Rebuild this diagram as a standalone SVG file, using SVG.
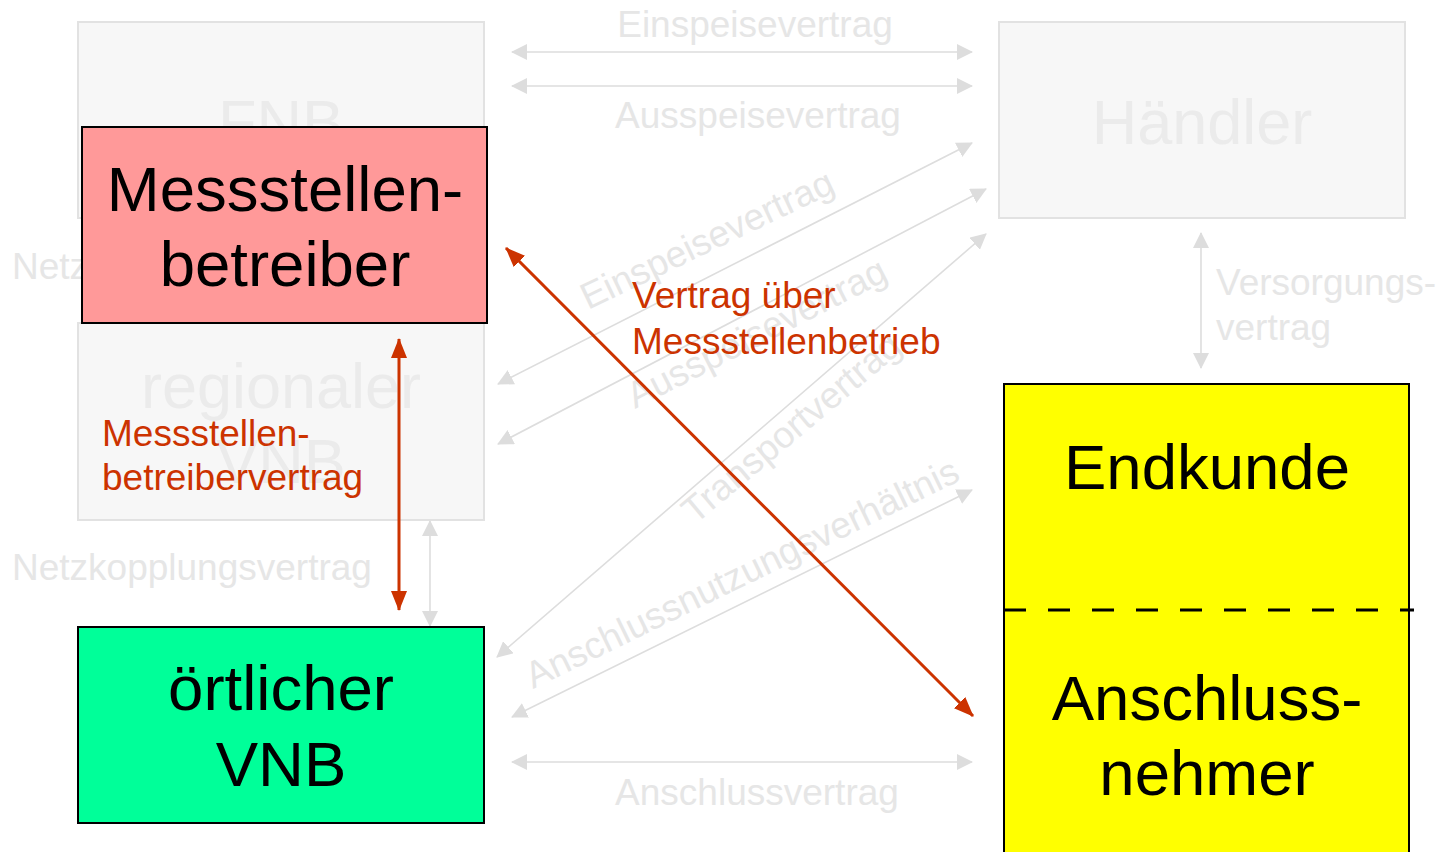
<svg xmlns="http://www.w3.org/2000/svg" width="1441" height="852" viewBox="0 0 1441 852">
  <style>
    text { font-family: "Liberation Sans", Arial, sans-serif; }
    .ghost-box { fill: #F7F7F7; stroke: #E2E2E2; stroke-width: 2; }
    .ghost-title { fill: #EBEBEB; font-size: 63px; text-anchor: middle; }
    .ghost-label { fill: #E6E6E6; font-size: 37px; }
    .ghost-line { stroke: #DDDDDD; stroke-width: 1.6; fill: none; marker-start: url(#gh); marker-end: url(#gh); }
    .box { stroke: #000000; stroke-width: 2; }
    .title { fill: #000000; font-size: 63.5px; text-anchor: middle; }
    .red-line { stroke: #CC3300; stroke-width: 3; fill: none; marker-start: url(#rh); marker-end: url(#rh); }
    .red-label { fill: #CC3300; font-size: 37px; }
  </style>
  <defs>
    <marker id="gh" markerUnits="userSpaceOnUse" markerWidth="16" markerHeight="16" refX="15" refY="8" orient="auto-start-reverse">
      <path d="M0,0 L16,8 L0,16 z" fill="#DDDDDD"/>
    </marker>
    <marker id="rh" markerUnits="userSpaceOnUse" markerWidth="20" markerHeight="16" refX="19" refY="8" orient="auto-start-reverse">
      <path d="M0,0 L20,8 L0,16 z" fill="#CC3300"/>
    </marker>
  </defs>

  <!-- background parties -->
  <g id="fnb">
    <rect class="ghost-box" x="78" y="22" width="406" height="196"/>
    <text class="ghost-title" x="281" y="144">FNB</text>
  </g>
  <g id="regionaler-vnb">
    <rect class="ghost-box" x="78" y="323" width="406" height="197"/>
    <text class="ghost-title" x="281" y="408">regionaler</text>
    <text class="ghost-title" x="281" y="483">VNB</text>
  </g>
  <g id="haendler">
    <rect class="ghost-box" x="999" y="22" width="406" height="196"/>
    <text class="ghost-title" x="1202" y="144">Händler</text>
  </g>

  <!-- background contracts -->
  <g id="connectors">
    <line class="ghost-line" x1="512" y1="52" x2="972" y2="52"/>
    <line class="ghost-line" x1="512" y1="86" x2="972" y2="86"/>
    <line class="ghost-line" x1="498" y1="384" x2="972" y2="143"/>
    <line class="ghost-line" x1="498" y1="444" x2="986" y2="189"/>
    <line class="ghost-line" x1="497" y1="657" x2="986" y2="234"/>
    <line class="ghost-line" x1="512" y1="717" x2="972" y2="490"/>
    <line class="ghost-line" x1="512" y1="762" x2="972" y2="762"/>
    <line class="ghost-line" x1="430" y1="521" x2="430" y2="626"/>
    <line class="ghost-line" x1="1201" y1="233" x2="1201" y2="368"/>

    <text class="ghost-label" x="755" y="37" text-anchor="middle">Einspeisevertrag</text>
    <text class="ghost-label" x="758" y="128" text-anchor="middle">Ausspeisevertrag</text>
    <text class="ghost-label" transform="translate(588 310) rotate(-25.5)">Einspeisevertrag</text>
    <text class="ghost-label" transform="translate(635 409) rotate(-27)">Ausspeisevertrag</text>
    <text class="ghost-label" transform="translate(695 525) rotate(-40)">Transportvertrag</text>
    <text class="ghost-label" transform="translate(533 689) rotate(-26)">Anschlussnutzungsverhältnis</text>
    <text class="ghost-label" x="757" y="805" text-anchor="middle">Anschlussvertrag</text>
    <text class="ghost-label" x="12" y="580">Netzkopplungsvertrag</text>
    <text class="ghost-label" x="12" y="279">Netz</text>
    <text class="ghost-label" x="1216" y="295">Versorgungs-</text>
    <text class="ghost-label" x="1216" y="340">vertrag</text>
  </g>

  <!-- highlighted parties -->
  <g id="messstellenbetreiber">
    <rect class="box" x="82" y="127" width="405" height="196" fill="#FF9999"/>
    <text class="title" x="285" y="211">Messstellen-</text>
    <text class="title" x="285" y="286">betreiber</text>
  </g>
  <g id="oertlicher-vnb">
    <rect class="box" x="78" y="627" width="406" height="196" fill="#00FF99"/>
    <text class="title" x="281" y="710">örtlicher</text>
    <text class="title" x="281" y="786">VNB</text>
  </g>
  <g id="endkunde-anschlussnehmer">
    <rect class="box" x="1004" y="384" width="405" height="480" fill="#FFFF00" stroke="#333333"/>
    <line x1="1004" y1="610" x2="1414" y2="610" stroke="#000000" stroke-width="3" stroke-dasharray="22 22"/>
    <text class="title" x="1207" y="489">Endkunde</text>
    <text class="title" x="1207" y="720">Anschluss-</text>
    <text class="title" x="1207" y="795">nehmer</text>
  </g>

  <!-- metering contracts -->
  <g id="metering-connectors">
    <line class="red-line" x1="506" y1="248" x2="973" y2="716"/>
    <line class="red-line" x1="399" y1="339" x2="399" y2="610"/>
    <text class="red-label" x="632" y="308">Vertrag über</text>
    <text class="red-label" x="632" y="354">Messstellenbetrieb</text>
    <text class="red-label" x="102" y="446">Messstellen-</text>
    <text class="red-label" x="102" y="490">betreibervertrag</text>
  </g>
</svg>
